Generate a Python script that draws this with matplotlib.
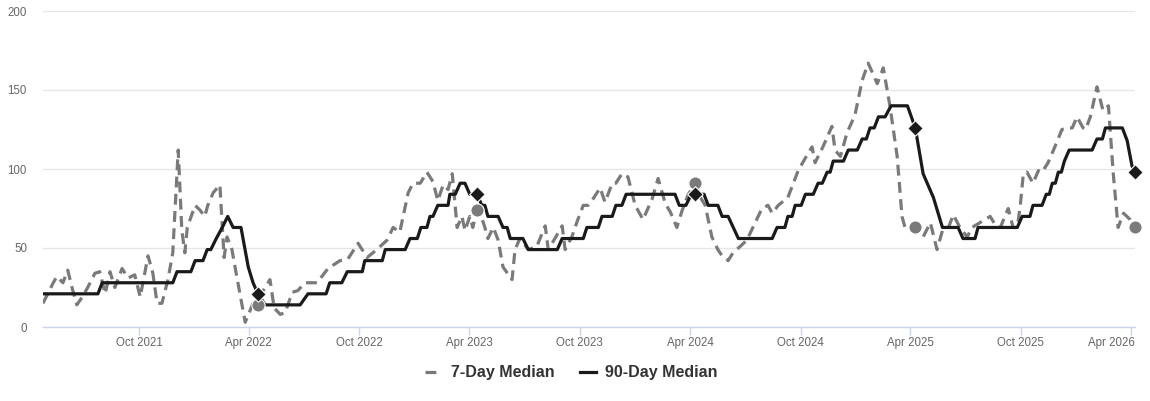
import matplotlib
matplotlib.use("Agg")
import matplotlib.pyplot as plt
import matplotlib.dates as mdates
from matplotlib.lines import Line2D
from matplotlib.transforms import ScaledTranslation
import pandas as pd

plt.rcParams['font.family'] = ['Liberation Sans', 'DejaVu Sans']

# ---- 7-Day Median (dashed) ----
d7_dates = [
    "2021-04-25", "2021-05-12", "2021-05-18", "2021-05-28", "2021-06-05", "2021-06-12", "2021-06-20",
    "2021-06-29", "2021-07-08", "2021-07-20", "2021-07-28", "2021-08-06", "2021-08-14", "2021-08-22",
    "2021-09-03", "2021-09-13", "2021-09-24", "2021-10-03", "2021-10-16", "2021-10-24", "2021-10-31",
    "2021-11-08", "2021-11-18", "2021-11-26", "2021-12-05", "2021-12-11", "2021-12-16", "2021-12-20",
    "2022-01-02", "2022-01-10", "2022-01-18", "2022-01-23", "2022-02-01", "2022-02-12", "2022-02-19",
    "2022-02-24", "2022-03-04", "2022-03-11", "2022-03-26", "2022-04-08", "2022-04-23", "2022-05-06",
    "2022-05-13", "2022-05-23", "2022-05-31", "2022-06-12", "2022-06-21", "2022-07-03", "2022-07-23",
    "2022-08-10", "2022-08-30", "2022-09-12", "2022-09-29", "2022-10-14", "2022-10-30", "2022-11-16",
    "2022-11-26", "2022-12-07", "2022-12-21", "2022-12-29", "2023-01-10", "2023-01-21", "2023-01-31",
    "2023-02-08", "2023-02-17", "2023-02-25", "2023-03-04", "2023-03-09", "2023-03-12", "2023-03-20",
    "2023-03-25", "2023-04-02", "2023-04-07", "2023-04-14", "2023-04-21", "2023-04-27", "2023-05-02",
    "2023-05-11", "2023-05-19", "2023-05-27", "2023-06-11", "2023-06-16", "2023-06-24", "2023-07-08",
    "2023-07-22", "2023-08-05", "2023-08-10", "2023-08-21", "2023-09-02", "2023-09-07", "2023-09-18",
    "2023-09-28", "2023-10-07", "2023-10-15", "2023-10-23", "2023-11-04", "2023-11-12", "2023-11-24",
    "2023-11-30", "2023-12-10", "2023-12-20", "2024-01-01", "2024-01-14", "2024-01-29", "2024-02-08",
    "2024-02-20", "2024-02-28", "2024-03-10", "2024-03-19", "2024-03-29", "2024-04-10", "2024-04-18",
    "2024-04-26", "2024-05-07", "2024-05-17", "2024-05-24", "2024-06-03", "2024-06-11", "2024-06-23",
    "2024-07-04", "2024-07-14", "2024-07-29", "2024-08-08", "2024-08-15", "2024-08-25", "2024-09-10",
    "2024-09-27", "2024-10-09", "2024-10-20", "2024-10-25", "2024-11-07", "2024-11-22", "2024-11-27",
    "2024-12-06", "2024-12-17", "2024-12-30", "2025-01-11", "2025-01-21", "2025-02-05", "2025-02-15",
    "2025-02-26", "2025-03-10", "2025-03-18", "2025-03-23", "2025-04-09", "2025-04-22", "2025-05-04",
    "2025-05-15", "2025-05-24", "2025-06-03", "2025-06-11", "2025-06-22", "2025-07-04", "2025-07-12",
    "2025-08-11", "2025-08-19", "2025-08-28", "2025-09-10", "2025-09-18", "2025-09-25", "2025-09-30",
    "2025-10-05", "2025-10-11", "2025-10-21", "2025-10-30", "2025-11-05", "2025-11-15", "2025-11-24",
    "2025-12-08", "2025-12-17", "2025-12-25", "2026-01-02", "2026-01-12", "2026-01-16", "2026-01-24",
    "2026-02-04", "2026-02-14", "2026-02-23", "2026-03-03", "2026-03-11", "2026-03-20", "2026-03-31",
    "2026-04-08",
]
d7_values = [
    15, 28, 32, 28, 36, 25, 14,
    19, 25, 34, 35, 21, 35, 25,
    37, 31, 33, 19, 45, 34, 15,
    15, 30, 47, 112, 61, 47, 63,
    77, 74, 70, 77, 85, 90, 44,
    57, 49, 34, 3, 15, 22, 30,
    12, 8, 9, 22, 23, 28, 28,
    37, 42, 43, 53, 44, 49, 55,
    63, 60, 85, 91, 91, 98, 92,
    80, 90, 87, 97, 76, 63, 70,
    61, 70, 63, 74, 70, 63, 56,
    63, 55, 38, 30, 49, 56, 49,
    51, 64, 49, 56, 64, 49, 57,
    68, 77, 77, 81, 88, 79, 91,
    91, 97, 95, 77, 68, 81, 94,
    78, 73, 63, 74, 84, 91, 82,
    77, 57, 49, 45, 42, 47, 51,
    55, 63, 75, 77, 72, 77, 82,
    99, 107, 114, 104, 114, 127, 112,
    108, 123, 134, 156, 167, 154, 164,
    140, 108, 70, 63, 63, 57, 66,
    49, 61, 63, 71, 63, 57, 63,
    70, 65, 63, 75, 63, 63, 77,
    97, 98, 91, 99, 98, 104, 112,
    125, 126, 126, 133, 126, 125, 133,
    152, 137, 140, 97, 63, 72, 68,
    63,
]

# ---- 90-Day Median (solid) ----
d90_dates = [
    "2021-04-25", "2021-07-25", "2021-08-01", "2021-11-26", "2021-12-03", "2021-12-26", "2022-01-02",
    "2022-01-15", "2022-01-22", "2022-01-28", "2022-02-06", "2022-02-16", "2022-02-25", "2022-03-06",
    "2022-03-19", "2022-03-31", "2022-04-08", "2022-04-16", "2022-04-28", "2022-06-25", "2022-07-08",
    "2022-08-07", "2022-08-13", "2022-09-02", "2022-09-11", "2022-10-06", "2022-10-10", "2022-11-08",
    "2022-11-13", "2022-12-16", "2022-12-24", "2023-01-05", "2023-01-11", "2023-01-21", "2023-01-26",
    "2023-01-31", "2023-02-08", "2023-02-25", "2023-02-28", "2023-03-09", "2023-03-17", "2023-03-25",
    "2023-04-02", "2023-04-14", "2023-04-22", "2023-04-27", "2023-05-02", "2023-05-19", "2023-05-27",
    "2023-06-03", "2023-06-08", "2023-06-29", "2023-07-08", "2023-08-25", "2023-09-02", "2023-10-07",
    "2023-10-13", "2023-11-01", "2023-11-07", "2023-11-24", "2023-11-30", "2023-12-10", "2023-12-17",
    "2024-03-07", "2024-03-14", "2024-03-25", "2024-04-03", "2024-04-09", "2024-04-24", "2024-05-01",
    "2024-05-17", "2024-05-24", "2024-06-03", "2024-06-20", "2024-08-15", "2024-08-23", "2024-09-05",
    "2024-09-10", "2024-09-17", "2024-09-22", "2024-10-02", "2024-10-09", "2024-10-22", "2024-10-30",
    "2024-11-06", "2024-11-14", "2024-11-19", "2024-11-24", "2024-12-11", "2024-12-19", "2025-01-03",
    "2025-01-11", "2025-01-18", "2025-01-24", "2025-01-31", "2025-02-07", "2025-02-18", "2025-02-28",
    "2025-03-27", "2025-04-09", "2025-04-22", "2025-05-09", "2025-05-24", "2025-06-19", "2025-06-27",
    "2025-07-17", "2025-07-22", "2025-09-25", "2025-10-03", "2025-10-16", "2025-10-21", "2025-11-05",
    "2025-11-12", "2025-11-17", "2025-11-22", "2025-11-27", "2025-12-02", "2025-12-07", "2025-12-12",
    "2025-12-20", "2026-01-27", "2026-02-04", "2026-02-13", "2026-02-18", "2026-03-18", "2026-03-26",
    "2026-04-03", "2026-04-08",
]
d90_values = [
    21, 21, 28, 28, 35, 35, 42,
    42, 49, 49, 56, 63, 70, 63,
    63, 38, 28, 21, 14, 14, 21,
    21, 28, 28, 35, 35, 42, 42,
    49, 49, 56, 56, 63, 63, 70,
    70, 77, 77, 84, 84, 91, 91,
    84, 84, 77, 77, 70, 70, 63,
    63, 56, 56, 49, 49, 56, 56,
    63, 63, 70, 70, 77, 77, 84,
    84, 77, 77, 84, 84, 84, 77,
    77, 70, 70, 56, 56, 63, 63,
    70, 70, 77, 77, 84, 84, 91,
    91, 98, 98, 105, 105, 112, 112,
    119, 119, 126, 126, 133, 133, 140,
    140, 126, 97, 82, 63, 63, 56,
    56, 63, 63, 70, 70, 77, 77,
    84, 84, 91, 91, 98, 98, 105,
    112, 112, 119, 119, 126, 126, 118,
    102, 98,
]

# ---- yearly markers ----
mark_dates = ["2022-04-16", "2023-04-14", "2024-04-09", "2025-04-09", "2026-04-08"]
mark_90 = [21, 84, 84, 126, 98]
mark_7 = [14, 74, 91, 63, 63]

tick_dates = ["2021-10-01", "2022-04-01", "2022-10-01", "2023-04-01", "2023-10-01",
              "2024-04-01", "2024-10-01", "2025-04-01", "2025-10-01", "2026-04-01"]
tick_labels = ["Oct 2021", "Apr 2022", "Oct 2022", "Apr 2023", "Oct 2023",
               "Apr 2024", "Oct 2024", "Apr 2025", "Oct 2025", "Apr 2026"]
y_ticks = [0, 50, 100, 150, 200]

GRAY = "#7a7a7a"
BLACK = "#1a1a1a"

fig = plt.figure(figsize=(11.5, 4.01), dpi=100)
ax = fig.add_axes([43 / 1150, (401 - 327) / 401, (1135 - 43) / 1150, (327 - 11) / 401])

x7 = pd.to_datetime(d7_dates)
x90 = pd.to_datetime(d90_dates)
xm = pd.to_datetime(mark_dates)

ax.plot(x7, d7_values, color=GRAY, lw=2.3, dashes=(3.4, 2.0), zorder=3)
ax.plot(x90, d90_values, color=BLACK, lw=2.3, zorder=4)
ax.scatter(xm, mark_7, s=90, color=GRAY, marker='o', zorder=5, edgecolors='white', linewidths=0.8, clip_on=False)
ax.scatter(xm, mark_90, s=62, color=BLACK, marker='D', zorder=6, edgecolors='white', linewidths=0.8, clip_on=False)

ax.set_xlim(pd.Timestamp("2021-04-25"), pd.Timestamp("2026-04-08"))
ax.set_ylim(0, 200)
ax.set_yticks(y_ticks)
ax.set_xticks(pd.to_datetime(tick_dates))
ax.set_xticklabels(tick_labels)

ax.grid(axis='y', color='#e6e6e6', lw=1)
ax.grid(axis='x', visible=False)
ax.set_axisbelow(True)
for s in ['top', 'right', 'left']:
    ax.spines[s].set_visible(False)
ax.spines['bottom'].set_color('#ccd6eb')
ax.spines['bottom'].set_linewidth(1)
ax.spines['bottom'].set_zorder(2)

ax.tick_params(axis='y', length=0, pad=11.5, labelsize=8.3, labelcolor='#666666')
ax.tick_params(axis='x', length=5.5, width=1, color='#ccd6eb', pad=1.5, labelsize=8.3, labelcolor='#666666')

# keep last label inside the figure (as the reference does)
last = ax.get_xticklabels()[-1]
last.set_horizontalalignment('right')
last.set_transform(last.get_transform() + ScaledTranslation(4 / 100, 0, fig.dpi_scale_trans))

handles = [
    Line2D([0], [0], color=GRAY, lw=2.3, dashes=(3.4, 2.0)),
    Line2D([0], [0], color=BLACK, lw=2.3),
]
leg = fig.legend(handles, ["7-Day Median", "90-Day Median"], loc='center',
                 bbox_to_anchor=(0.497, 1 - 373 / 401), ncol=2, frameon=False,
                 handlelength=1.0, handletextpad=0.6, columnspacing=1.6,
                 prop={'weight': 'bold', 'size': 11.5})
for t in leg.get_texts():
    t.set_color('#333333')

fig.savefig("out.png", dpi=100, facecolor='white')
